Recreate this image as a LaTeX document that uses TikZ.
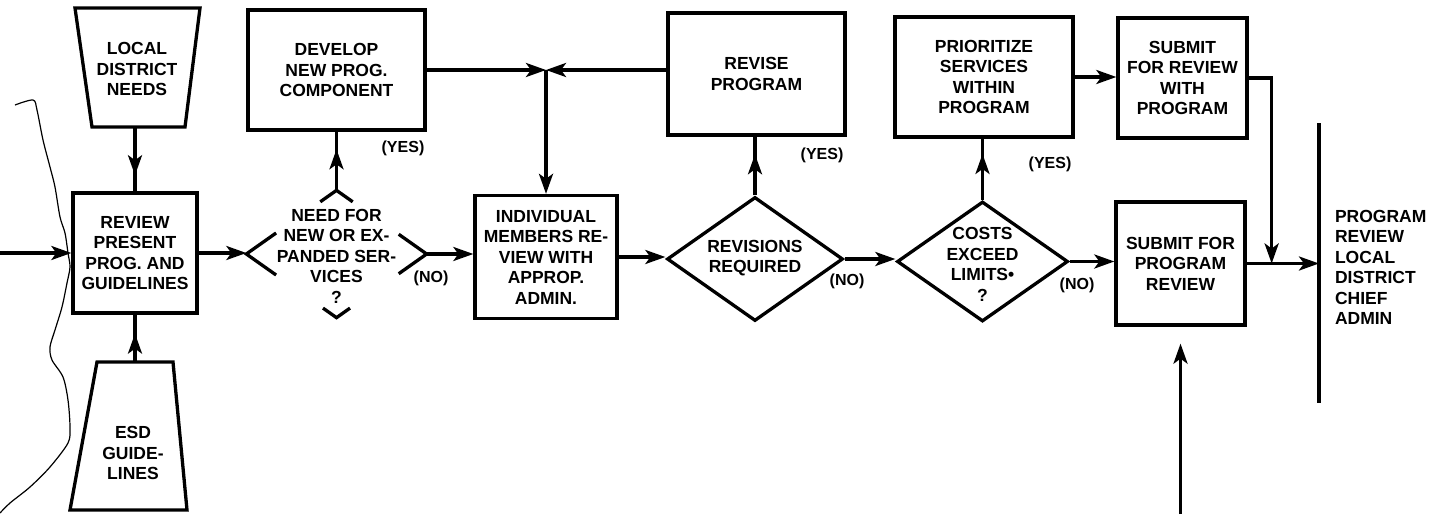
\documentclass[tikz,border=0pt]{standalone}
\usepackage{fontspec}
\setmainfont{Liberation Sans}
\usepackage{tikz}
\usetikzlibrary{calc,arrows.meta,shapes.geometric,decorations.markings}

\tikzset{
    box/.style={draw, minimum height=120pt, inner sep=0pt},
    decision/.style={diamond, inner sep=0pt},
    arr/.style={-{Stealth[length=20pt, width=14pt, inset=5pt]}},
    midarrow/.style={postaction={decorate, decoration={markings,
        mark=at position #1 with {\arrow{Stealth[length=20pt, width=14pt, inset=5pt]}}}}},
    midarrow/.default=0.7,
    tag/.style={font=\bfseries\fontsize{16}{18}\selectfont}
}

\begin{document}
\begin{tikzpicture}[x=1pt, y=-1pt, line width=3.3pt,
    every node/.style={font=\bfseries\fontsize{17.5}{20.5}\selectfont, align=center}]
    \useasboundingbox (0,0) rectangle (1429,514);

    % Inputs
    \draw (75,8) -- (200,8) -- (185,127) -- (92,127) -- cycle;
    \node (local) at (137,69) {LOCAL\\DISTRICT\\NEEDS};
    \coordinate (localbot) at (135,127);
    \draw (97,362) -- (173,362) -- (187,510) -- (70,510) -- cycle;
    \node (esd) at (133,453) {ESD\\GUIDE-\\LINES};
    \coordinate (esdtop) at (135,362);

    % Boxes
    \node[box, minimum width=124pt] (review) at (135,253) {REVIEW\\PRESENT\\PROG. AND\\GUIDELINES};
    \node[box, minimum width=177pt] (develop) at (336.5,70) {DEVELOP\\NEW PROG.\\COMPONENT};
    \node[box, minimum width=142pt, minimum height=123pt] (indiv) at (546,257) {INDIVIDUAL\\MEMBERS RE-\\VIEW WITH\\APPROP.\\ADMIN.};
    \node[box, minimum width=177pt, minimum height=122pt] (revise) at (756.5,74) {REVISE\\PROGRAM};
    \node[box, minimum width=178pt] (prior) at (984,77) {PRIORITIZE\\SERVICES\\WITHIN\\PROGRAM};
    \node[box, minimum width=129pt] (subwith) at (1182.5,78) {SUBMIT\\FOR REVIEW\\WITH\\PROGRAM};
    \node[box, minimum width=129pt, minimum height=123pt] (subprog) at (1180.5,263.5) {SUBMIT FOR\\PROGRAM\\REVIEW};

    % Decisions
    \node[decision, minimum width=177pt, minimum height=124pt,
          label={[yshift=-2pt]center:{NEED FOR\\NEW OR EX-\\PANDED SER-\\VICES\\?}}] (need) at (336.5,254) {\strut};
    \node[decision, draw, minimum width=176pt, minimum height=124pt,
          label={[yshift=1pt]center:{REVISIONS\\REQUIRED}}] (revisions) at (755,259) {\strut};
    \node[decision, draw, minimum width=171pt, minimum height=120pt,
          label={[yshift=-3pt]center:{COSTS\\EXCEED\\LIMITS•\\?}}] (costs) at (982.5,261.5) {\strut};

    % Broken outline of the first decision
    \draw ($(need.north)!0.18!(need.west)$) -- (need.north) -- ($(need.north)!0.18!(need.east)$);
    \draw ($(need.west)!0.33!(need.north)$) -- (need.west) -- ($(need.west)!0.33!(need.south)$);
    \draw ($(need.east)!0.31!(need.north)$) -- (need.east) -- ($(need.east)!0.31!(need.south)$);
    \draw ($(need.south)!0.15!(need.west)$) -- (need.south) -- ($(need.south)!0.15!(need.east)$);

    % Destination
    \coordinate (bartop) at (1319,123);
    \coordinate (barbot) at (1319,403);
    \draw (bartop) -- (barbot);
    \node[anchor=west, align=left] (dest) at (1330,267.5) {PROGRAM\\REVIEW\\LOCAL\\DISTRICT\\CHIEF\\ADMIN};

    % Flow
    \coordinate (start) at (0,253);
    \draw[arr] (start) -- (review.west);
    \draw[midarrow=0.75] (localbot) -- (review.north);
    \draw[midarrow=0.6] (esdtop) -- (review.south);
    \draw[arr] (review.east) -- (review.east -| need.west);
    \draw[midarrow] (need.north) -- (develop.south);
    \coordinate (join) at (indiv.north |- develop.east);
    \draw[arr] (develop.east) -- (join);
    \draw[arr] (revise.west |- join) -- (join);
    \draw[arr] (join) -- (indiv.north);
    \draw[arr] (need.east) -- (need.east -| indiv.west);
    \draw[arr] (indiv.east) -- (indiv.east -| revisions.west);
    \draw[midarrow] (revisions.north) -- (revisions.north |- revise.south);
    \draw[arr] (revisions.east) -- (revisions.east -| costs.west);
    \draw[midarrow=0.75] (costs.north) -- (costs.north |- prior.south);
    \draw[arr] (prior.east) -- (prior.east -| subwith.west);
    \draw[arr] (costs.east) -- (costs.east -| subprog.west);
    \coordinate (merge) at ($(subprog.east)+(25,0)$);
    \draw[arr] (subwith.east) -| (merge);
    \draw[arr] (subprog.east) -- (subprog.east -| bartop);
    \coordinate (feed) at (1180.5,514);
    \draw[arr] (feed) -- ([yshift=-17pt]subprog.south);

    % Answers
    \node[tag] (yes1) at (403,148) {(YES)};
    \node[tag] (no1) at (431,278) {(NO)};
    \node[tag] (yes2) at (822,155) {(YES)};
    \node[tag] (no2) at (847,281) {(NO)};
    \node[tag] (yes3) at (1050,164) {(YES)};
    \node[tag] (no3) at (1077,285) {(NO)};

    % Torn edge of the page
    \draw[line width=1.2pt] plot[smooth] coordinates {(15,105) (33,100) (37,110) (43,140) (50,167)
        (55,187) (60,217) (65,233) (68,253) (70,267) (67,283) (62,307) (55,330) (50,347) (52,360)
        (63,377) (68,400) (70,427) (68,443) (50,467) (30,487) (10,503) (0,513)};
\end{tikzpicture}
\end{document}
